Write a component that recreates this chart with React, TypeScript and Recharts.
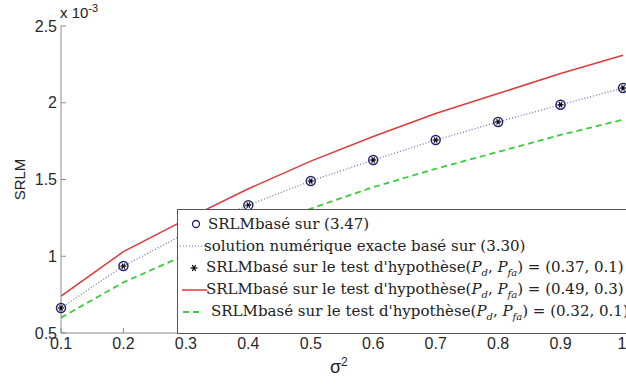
import { LineChart, Line, XAxis, YAxis, Legend } from "recharts";

// sigma^2 values on the x axis
const sigma2 = [0.1, 0.2, 0.3, 0.4, 0.5, 0.6, 0.7, 0.8, 0.9, 1.0];
// SRLM values, in units of 1e-3
const srlmApprox = [0.663, 0.936, 1.15, 1.333, 1.49, 1.627, 1.757, 1.875, 1.987, 2.096];
const srlmExact = [0.663, 0.936, 1.15, 1.333, 1.49, 1.627, 1.757, 1.875, 1.987, 2.096];
const srlmTest037 = [0.663, 0.936, 1.15, 1.333, 1.49, 1.627, 1.757, 1.875, 1.987, 2.096];
const srlmTest049 = [0.74, 1.03, 1.24, 1.44, 1.62, 1.78, 1.93, 2.06, 2.19, 2.31];
const srlmTest032 = [0.6, 0.83, 1.01, 1.16, 1.31, 1.45, 1.57, 1.68, 1.79, 1.89];

const xTicks = [0.1, 0.2, 0.3, 0.4, 0.5, 0.6, 0.7, 0.8, 0.9, 1];
const yTicks = [0.5, 1, 1.5, 2, 2.5];

const rows = sigma2.map((s, i) => ({
  s,
  approx: srlmApprox[i],
  exact: srlmExact[i],
  t037: srlmTest037[i],
  t049: srlmTest049[i],
  t032: srlmTest032[i],
}));

const navy = "#23236e";
const axisGrey = "#8c8c8c";
const sans = "'Liberation Sans', Arial, sans-serif";
const serif = "'DejaVu Serif', serif";
const tickFont = { fontFamily: sans, fontSize: 16, fill: "#2a2a2a" };

const Star = (props: any) => {
  const { cx, cy, r = 4 } = props;
  if (cx == null || cy == null) return null;
  return (
    <g stroke="#000" strokeWidth={1.2}>
      <line x1={cx - r} y1={cy} x2={cx + r} y2={cy} />
      <line x1={cx - r * 0.5} y1={cy - r * 0.87} x2={cx + r * 0.5} y2={cy + r * 0.87} />
      <line x1={cx - r * 0.5} y1={cy + r * 0.87} x2={cx + r * 0.5} y2={cy - r * 0.87} />
    </g>
  );
};

const Pdfa = ({ vals }: { vals: string }) => (
  <span>
    (<i>P</i>
    <sub style={{ fontSize: 10 }}><i>d</i></sub>, <i>P</i>
    <sub style={{ fontSize: 10 }}><i>fa</i></sub>) = ({vals})
  </span>
);

const legendRows = [
  { key: "approx", text: <span>SRLMbasé sur (3.47)</span>, pad: 0 },
  { key: "exact", text: <span>solution numérique exacte basé sur (3.30)</span>, pad: -4 },
  { key: "t037", text: <span>SRLMbasé sur le test d'hypothèse<Pdfa vals="0.37, 0.1" /></span>, pad: -2 },
  { key: "t049", text: <span>SRLMbasé sur le test d'hypothèse<Pdfa vals="0.49, 0.3" /></span>, pad: -2 },
  { key: "t032", text: <span>SRLMbasé sur le test d'hypothèse<Pdfa vals="0.32, 0.1" /></span>, pad: 3 },
];

const LegendIcon = ({ k }: { k: string }) => {
  if (k === "approx")
    return (
      <svg width={30} height={20}>
        <circle cx={18} cy={10} r={3.5} fill="none" stroke={navy} strokeWidth={1.3} />
      </svg>
    );
  if (k === "exact")
    return (
      <svg width={30} height={20}>
        <line x1={2} y1={10} x2={27} y2={10} stroke="#6a6ab0" strokeWidth={1.2} strokeDasharray="1 2" />
      </svg>
    );
  if (k === "t037")
    return (
      <svg width={30} height={20}>
        <Star cx={16} cy={10} r={3.5} />
      </svg>
    );
  if (k === "t049")
    return (
      <svg width={30} height={20}>
        <line x1={4} y1={10} x2={29} y2={10} stroke="#e03a3a" strokeWidth={1.5} />
      </svg>
    );
  return (
    <svg width={30} height={20}>
      <line x1={5} y1={10} x2={25} y2={10} stroke="#3ccc3c" strokeWidth={1.8} strokeDasharray="6 4" />
    </svg>
  );
};

const renderLegend = () => (
  <div
    style={{
      border: "1px solid #555",
      background: "#fff",
      width: 460,
      height: 125,
      boxSizing: "border-box",
      padding: "3px 0 0 0",
      fontFamily: serif,
      fontSize: 15,
      color: "#222",
      whiteSpace: "nowrap",
      textAlign: "left",
    }}
  >
    {legendRows.map((r) => (
      <div key={r.key} style={{ display: "flex", alignItems: "center", height: 22 }}>
        <LegendIcon k={r.key} />
        <span style={{ marginLeft: r.pad }}>{r.text}</span>
      </div>
    ))}
  </div>
);

export default function App() {
  return (
    <div style={{ position: "absolute", left: 0, top: 0, width: 626, height: 385, overflow: "hidden", background: "#fff" }}>
      <LineChart width={626} height={385} data={rows} margin={{ top: 26, right: 3, left: 0, bottom: 0 }}>
        <XAxis
          dataKey="s"
          type="number"
          domain={[0.1, 1]}
          ticks={xTicks}
          height={52}
          tickSize={-5}
          tickMargin={10}
          stroke={axisGrey}
          tick={tickFont}
        />
        <XAxis
          xAxisId="top"
          orientation="top"
          dataKey="s"
          type="number"
          domain={[0.1, 1]}
          ticks={xTicks}
          height={0}
          tickSize={-5}
          tickFormatter={() => ""}
          stroke={axisGrey}
        />
        <YAxis
          type="number"
          domain={[0.5, 2.5]}
          ticks={yTicks}
          width={61}
          tickSize={-5}
          tickMargin={9}
          stroke={axisGrey}
          tick={tickFont}
          label={{
            value: "SRLM",
            angle: -90,
            position: "insideLeft",
            offset: 20,
            style: { fontFamily: sans, fontSize: 15, fill: "#222", textAnchor: "middle" },
          }}
        />
        <YAxis
          yAxisId="right"
          orientation="right"
          type="number"
          domain={[0.5, 2.5]}
          ticks={yTicks}
          width={0}
          tickSize={-5}
          tickFormatter={() => ""}
          stroke={axisGrey}
        />
        <Line dataKey="t049" stroke="#e03a3a" strokeWidth={1.5} dot={false} isAnimationActive={false} />
        <Line dataKey="t032" stroke="#3ccc3c" strokeWidth={1.8} strokeDasharray="6 4" dot={false} isAnimationActive={false} />
        <Line dataKey="exact" stroke="#6a6ab0" strokeWidth={1.2} strokeDasharray="1 2" dot={false} isAnimationActive={false} />
        <Line
          dataKey="approx"
          stroke="none"
          dot={{ r: 4.5, stroke: navy, strokeWidth: 1.5, fill: "none" }}
          isAnimationActive={false}
        />
        <Line dataKey="t037" stroke="none" dot={<Star />} isAnimationActive={false} />
        <Legend
          layout="horizontal"
          verticalAlign="middle"
          content={renderLegend}
          wrapperStyle={{ left: 177, top: 209, width: 460 }}
        />
      </LineChart>
      <div style={{ position: "absolute", left: 60, top: 2, fontFamily: sans, fontSize: 15, color: "#222" }}>
        x 10<sup style={{ fontSize: 11 }}>-3</sup>
      </div>
      <div style={{ position: "absolute", left: 330, top: 355, fontFamily: sans, fontSize: 18, color: "#222" }}>
        σ<sup style={{ fontSize: 12 }}>2</sup>
      </div>
    </div>
  );
}
